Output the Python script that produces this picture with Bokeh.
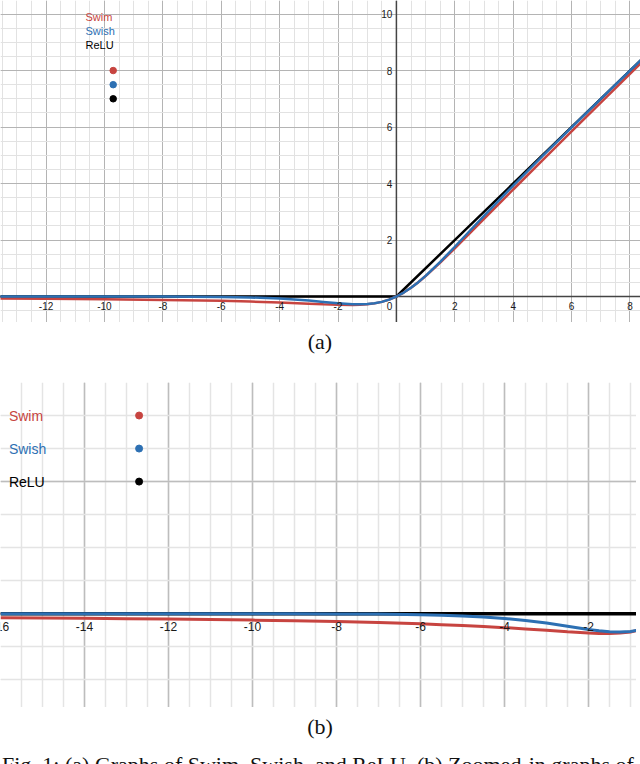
from bokeh.plotting import figure
from bokeh.models import (Range1d, Grid, SingleIntervalTicker, Span, Div)
from bokeh.layouts import column
from bokeh.core.properties import value
from bokeh.embed import file_html
from bokeh.resources import INLINE

# ---------------- data ----------------
# panel (a)
xa = [-13.6, -12, -10, -8, -6, -5, -4, -3, -2.5, -2, -1.5, -1.25, -1, -0.75, -0.5,
      -0.25, 0, 0.25, 0.5, 0.75, 1, 1.5, 2, 2.5, 3, 4, 5, 6, 7, 8, 8.4]
swish_a = [0.0, -0.0001, -0.0005, -0.003, -0.015, -0.034, -0.072, -0.142, -0.190, -0.238,
           -0.274, -0.278, -0.269, -0.241, -0.189, -0.109, 0.0, 0.141, 0.311, 0.509, 0.731,
           1.226, 1.762, 2.310, 2.858, 3.928, 4.967, 5.985, 6.994, 7.997, 8.398]
swim_a = [-0.072, -0.082, -0.097, -0.119, -0.154, -0.179, -0.211, -0.252, -0.274, -0.293,
          -0.300, -0.294, -0.276, -0.243, -0.189, -0.110, 0.0, 0.141, 0.311, 0.507, 0.724,
          1.200, 1.707, 2.226, 2.748, 3.789, 4.821, 5.846, 6.865, 7.881, 8.286]
relu_xa = [-13.6, 0, 8.4]
relu_a = [0, 0, 8.4]

# panel (b)
xb = [-16, -15, -14, -13, -12, -11, -10, -9, -8, -7, -6, -5.5, -5, -4.5, -4, -3.5, -3,
      -2.5, -2, -1.75, -1.5, -1.25, -1, -0.76]
swish_b = [0.0, 0.0, 0.0, 0.0, -0.0001, -0.0002, -0.0005, -0.001, -0.003, -0.006, -0.015,
           -0.022, -0.034, -0.050, -0.072, -0.103, -0.142, -0.190, -0.238, -0.259, -0.274,
           -0.278, -0.269, -0.242]
swim_b = [-0.062, -0.066, -0.070, -0.076, -0.082, -0.089, -0.097, -0.107, -0.119, -0.135,
          -0.154, -0.166, -0.179, -0.194, -0.211, -0.231, -0.252, -0.274, -0.293, -0.299,
          -0.300, -0.294, -0.276, -0.245]
relu_xb = [-16, -0.76]
relu_b = [0, 0]

series_names = ["Swim", "Swish", "ReLU"]
legend_x_a = -9.7
legend_y_a = [8.0, 7.5, 7.0]
legend_tx_a = -10.65
legend_ty_a = [9.9, 9.4, 8.9]
legend_x_b = -12.7
legend_y_b = [3.0, 2.5, 2.0]
legend_tx_b = -15.8

xticks_a = [-12, -10, -8, -6, -4, -2, 2, 4, 6, 8]
yticks_a = [2, 4, 6, 8, 10]
xticks_b = [-16, -14, -12, -10, -8, -6, -4, -2]

RED = "#c74440"
BLUE = "#2d70b3"
BLACK = "#000000"
COLORS = [RED, BLUE, BLACK]
FONT = value("Liberation Sans")


def make_fig(w, h, xr, yr, major_col, minor_col, gw):
    p = figure(width=w, height=h, x_range=Range1d(*xr), y_range=Range1d(*yr),
               toolbar_location=None, output_backend="svg",
               x_axis_location=None, y_axis_location=None,
               min_border=0, outline_line_color=None, background_fill_color="white")
    for dim in (0, 1):
        g = Grid(dimension=dim, ticker=SingleIntervalTicker(interval=2, num_minor_ticks=4),
                 grid_line_color=major_col, grid_line_width=gw,
                 minor_grid_line_color=minor_col, minor_grid_line_width=gw)
        p.add_layout(g)
    return p


# ---------------- panel (a) ----------------
pa = make_fig(640, 322, (-13.56, 8.36), (-0.92, 10.48), "#b4b4b4", "#e2e2e2", 1)
pa.add_layout(Span(location=0, dimension="width", line_color="#444444", line_width=1.5, level="underlay"))
pa.add_layout(Span(location=0, dimension="height", line_color="#444444", line_width=1.5, level="underlay"))

pa.line(relu_xa, relu_a, line_color=BLACK, line_width=2.5)
pa.line(xa, swim_a, line_color=RED, line_width=2.5)
pa.line(xa, swish_a, line_color=BLUE, line_width=2.5)

pa.scatter([legend_x_a] * 3, legend_y_a, size=6.5, color=COLORS)
pa.text([legend_tx_a] * 3, legend_ty_a, text=series_names, text_color=COLORS,
        text_font=FONT, text_font_size="11px", text_align="left", text_baseline="middle")

pa.text(xticks_a, [0] * len(xticks_a), text=[str(t) for t in xticks_a],
        text_font=FONT, text_font_size="10px", text_color="#1a1a1a",
        text_align="center", text_baseline="middle", y_offset=9)
pa.text([0], [0], text=["0"], text_font=FONT, text_font_size="10px", text_color="#1a1a1a",
        text_align="right", text_baseline="middle", x_offset=-4, y_offset=9)
pa.text([0] * len(yticks_a), yticks_a, text=[str(t) for t in yticks_a],
        text_font=FONT, text_font_size="10px", text_color="#1a1a1a",
        text_align="right", text_baseline="middle", x_offset=-4)

cap_a = Div(text='<div style="width:640px;height:40px;line-height:40px;text-align:center;'
                 'font-family:\'Liberation Serif\';font-size:22px;color:#111">(a)</div>',
            width=640, height=60, margin=0, styles={"margin": "0", "padding": "0"})

# ---------------- panel (b) ----------------
pb = make_fig(636, 325, (-16.0, -0.857), (-1.42, 3.5), "#bdbdbd", "#e4e4e4", 1.5)
pb.add_layout(Span(location=0, dimension="width", line_color="#444444", line_width=1.5, level="underlay"))

pb.line(relu_xb, relu_b, line_color=BLACK, line_width=3.5)
pb.line(xb, swim_b, line_color=RED, line_width=3)
pb.line(xb, swish_b, line_color=BLUE, line_width=3)

pb.scatter([legend_x_b] * 3, legend_y_b, size=7, color=COLORS)
pb.text([legend_tx_b] * 3, legend_y_b, text=series_names, text_color=COLORS,
        text_font=FONT, text_font_size="14px", text_align="left", text_baseline="middle")

pb.text(xticks_b, [0] * len(xticks_b), text=[str(t) for t in xticks_b],
        text_font=FONT, text_font_size="12px", text_color="#1a1a1a",
        text_align="center", text_baseline="middle", y_offset=13)

cap_b = Div(text='<div style="width:640px;height:57px;overflow:hidden;font-family:\'Liberation Serif\';'
                 'font-size:22px;color:#111">'
                 '<div style="height:40px;line-height:40px;text-align:center">(b)</div>'
                 '<div style="margin-top:6px;padding-left:2px;line-height:24px;white-space:nowrap">'
                 'Fig. 1: (a) Graphs of Swim, Swish, and ReLU. (b) Zoomed-in graphs of'
                 '</div></div>',
            width=640, height=57, margin=0, styles={"margin": "0", "padding": "0"})

layout = column(pa, cap_a, pb, cap_b, spacing=0)
open("out.html", "w").write(file_html(layout, INLINE))
